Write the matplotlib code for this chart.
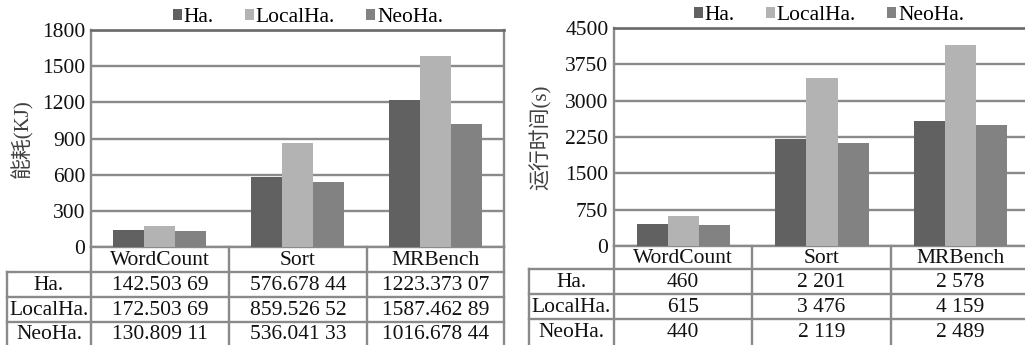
import matplotlib
matplotlib.use("Agg")
import matplotlib.pyplot as plt
from matplotlib.patches import Patch

# ---------------- data ----------------
categories = ["WordCount", "Sort", "MRBench"]
series_names = ["Ha.", "LocalHa.", "NeoHa."]

energy_ha = [142.50369, 576.67844, 1223.37307]
energy_local = [172.50369, 859.52652, 1587.46289]
energy_neo = [130.80911, 536.04133, 1016.67844]

time_ha = [460, 2201, 2578]
time_local = [615, 3476, 4159]
time_neo = [440, 2119, 2489]

energy_ticks = [0, 300, 600, 900, 1200, 1500, 1800]
time_ticks = [0, 750, 1500, 2250, 3000, 3750, 4500]

energy_label = "能耗(KJ)"
time_label = "运行时间(s)"

# ---------------- style ----------------
plt.rcParams["font.family"] = ["Liberation Serif", "Noto Sans CJK SC"]
W, H = 1025, 345
colors = ["#616161", "#b3b3b3", "#828282"]
line_c = "#8a8a8a"
SERIF = "Liberation Serif"
FS = 15.5
TXT = "#111111"


def fmt_energy(v):
    s = f"{v:.5f}"
    ip, dp = s.split(".")
    return f"{ip}.{dp[:3]} {dp[3:]}"


def fmt_time(v):
    s = f"{int(v):,}"
    return s.replace(",", " ")


fig = plt.figure(figsize=(W / 100, H / 100), dpi=100)


def panel(L, R, T, Z, LL, row_lines, cols, series, ticks, ylabel, label_x,
          legend_xy, fmt):
    ax = fig.add_axes([L / W, 1 - Z / H, (R - L) / W, (Z - T) / H])
    n = len(categories)
    x = list(range(n))
    bw = 0.225
    for i, vals in enumerate(series):
        ax.bar([xi + (i - 1) * bw for xi in x], vals, width=bw,
               color=colors[i], zorder=3, linewidth=0)
    ax.set_xlim(-0.5, n - 0.5)
    ax.set_ylim(ticks[0], ticks[-1])
    ax.set_yticks(ticks)
    ax.set_yticklabels([str(t) for t in ticks], fontsize=FS,
                       family=SERIF, color=TXT)
    ax.tick_params(axis="y", length=0, pad=4)
    ax.set_xticks([])
    ax.set_axisbelow(True)
    ax.yaxis.grid(True, color=line_c, linewidth=1.7)
    for s in ["left", "bottom", "right"]:
        ax.spines[s].set_color(line_c)
        ax.spines[s].set_linewidth(1.7)
    ax.spines["top"].set_color("#6a6a6a")
    ax.spines["top"].set_linewidth(1.9)
    fig.text(label_x / W, 1 - ((T + Z) / 2) / H, ylabel, rotation=90,
             ha="center", va="center", fontsize=FS - 0.5,
             family=["Liberation Serif", "Noto Sans CJK SC"],
             color="#404040")

    handles = [Patch(facecolor=c, edgecolor="none") for c in colors]
    fig.legend(handles, series_names, loc="center",
               bbox_to_anchor=(legend_xy[0] / W, 1 - legend_xy[1] / H),
               ncol=3, frameon=False, handlelength=0.4, handleheight=0.4,
               handletextpad=0.1, columnspacing=1.45,
               prop={"family": SERIF, "size": FS})

    # ---- data table ----
    tb = fig.add_axes([LL / W, 0, (R - LL) / W, 1 - Z / H])
    tb.set_xlim(LL, R)
    tb.set_ylim(H, Z)
    tb.axis("off")
    kw = dict(color=line_c, linewidth=1.7, clip_on=False,
              solid_capstyle="projecting")
    for y in row_lines[1:]:
        tb.plot([LL, R], [y, y], **kw)
    for xv in cols:
        tb.plot([xv, xv], [Z, H], **kw)
    tb.plot([LL, LL], [row_lines[1], H], **kw)
    ys = row_lines + [H]
    for j, c in enumerate(categories):
        xc = (cols[j] + cols[j + 1]) / 2
        tb.text(xc, (ys[0] + ys[1]) / 2 + 1, c, ha="center", va="center",
                fontsize=FS, family=SERIF, color=TXT)
    for i, (name, vals) in enumerate(zip(series_names, series)):
        yc = (ys[i + 1] + ys[i + 2]) / 2 + 1
        tb.text((LL + cols[0]) / 2, yc, name, ha="center", va="center",
                fontsize=FS, family=SERIF, color=TXT)
        for j, v in enumerate(vals):
            xc = (cols[j] + cols[j + 1]) / 2
            tb.text(xc, yc, fmt(v), ha="center", va="center",
                    fontsize=FS, family=SERIF, color=TXT)


panel(L=91, R=504, T=30, Z=247, LL=7, row_lines=[247, 272, 297, 322],
      cols=[91, 229, 367, 504],
      series=[energy_ha, energy_local, energy_neo], ticks=energy_ticks,
      ylabel=energy_label, label_x=22, legend_xy=(308, 18), fmt=fmt_energy)

panel(L=614, R=1030, T=28, Z=246, LL=529, row_lines=[246, 269, 294, 319],
      cols=[614, 752, 891, 1030],
      series=[time_ha, time_local, time_neo], ticks=time_ticks,
      ylabel=time_label, label_x=541, legend_xy=(829, 16), fmt=fmt_time)

fig.savefig("out.png", dpi=100)
